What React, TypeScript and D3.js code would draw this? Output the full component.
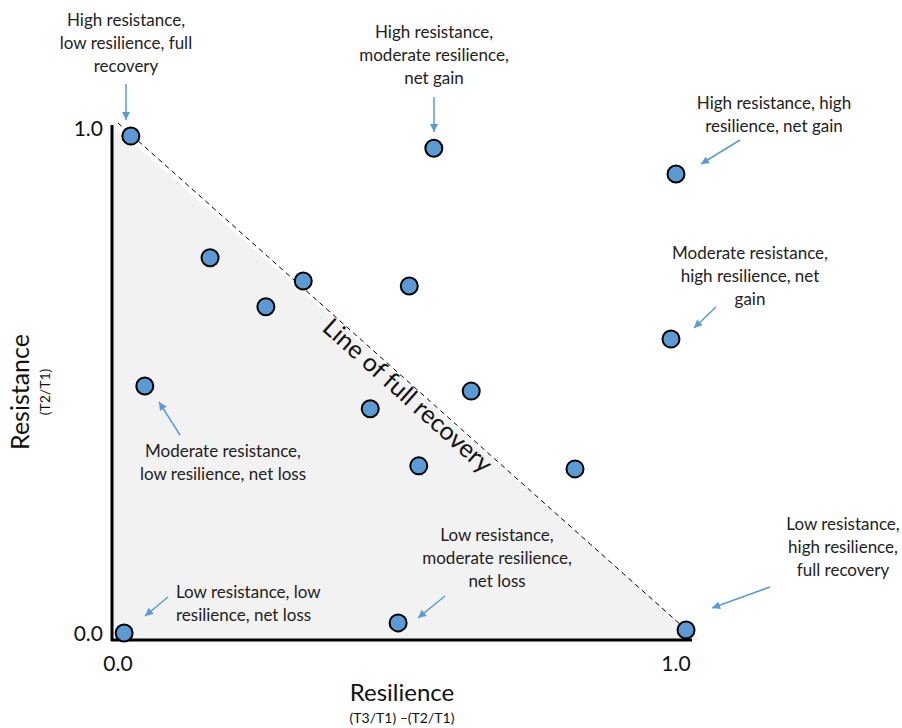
import React from 'react';
import * as d3 from 'd3';

// resilience (x) and resistance (y) of each site
const resilience = [0.023, 0.566, 1.0, 0.165, 0.332, 0.265, 0.522, 0.991, 0.048, 0.633, 0.452, 0.539, 0.819, 0.502, 0.011, 1.018];
const resistance = [0.984, 0.96, 0.909, 0.743, 0.697, 0.646, 0.687, 0.582, 0.489, 0.479, 0.444, 0.331, 0.325, 0.02, 0.0, 0.006];

const xTicks = [0, 1];
const yTicks = [0, 1];

const noteTexts = [
  ['High resistance,', 'low resilience, full', 'recovery'],
  ['High resistance,', 'moderate resilience,', 'net gain'],
  ['High resistance, high', 'resilience, net gain'],
  ['Moderate resistance,', 'high resilience, net', 'gain'],
  ['Moderate resistance,', 'low resilience, net loss'],
  ['Low resistance,', 'moderate resilience,', 'net loss'],
  ['Low resistance, low', 'resilience, net loss'],
  ['Low resistance,', 'high resilience,', 'full recovery'],
];

// layout of the notes: text anchor, first baseline, arrow from/to (pixels)
const noteLayout = [
  { x: 126, y: 26, anchor: 'middle', a: [126, 84, 126, 120] },
  { x: 434, y: 38, anchor: 'middle', a: [434, 97, 434, 132] },
  { x: 774, y: 109, anchor: 'middle', a: [740, 140, 701, 164] },
  { x: 750, y: 259, anchor: 'middle', a: [716, 307, 694, 328] },
  { x: 223, y: 457, anchor: 'middle', a: [180, 435, 159, 402] },
  { x: 497, y: 541, anchor: 'middle', a: [445, 596, 418, 618] },
  { x: 176, y: 598, anchor: 'start', a: [168, 597, 145, 616] },
  { x: 843, y: 530, anchor: 'middle', a: [770, 587, 712, 608] },
];

const W = 902;
const H = 728;
const FONT = 'Lato, "Open Sans", sans-serif';
const BLUE = '#5b9bd5';

const App = () => {
  const x = d3.scaleLinear().domain([0, 1]).range([118, 676]);
  const y = d3.scaleLinear().domain([0, 1]).range([633, 128]);

  const axisLeft = 112;
  const axisBottom = 640;

  const tri = d3.line()([
    [axisLeft, 125],
    [axisLeft, axisBottom],
    [700, axisBottom],
  ]) + 'Z';

  const lineStart = [x(0), y(1.01)];
  const lineEnd = [x(1.03), y(-0.005)];
  const angle = (Math.atan2(lineEnd[1] - lineStart[1], lineEnd[0] - lineStart[0]) * 180) / Math.PI;

  return (
    <svg width={W} height={H} style={{ position: 'absolute', left: 0, top: 0 }} fontFamily={FONT}>
      <defs>
        <marker id="ah" viewBox="0 0 10 10" refX="10" refY="5" markerWidth="10" markerHeight="8" markerUnits="userSpaceOnUse" orient="auto">
          <path d="M0,0 L10,5 L0,10 Z" fill={BLUE} />
        </marker>
      </defs>
      <rect width={W} height={H} fill="white" />
      <path d={tri} fill="#f2f2f2" />
      <line x1={lineStart[0]} y1={lineStart[1]} x2={lineEnd[0]} y2={lineEnd[1]} stroke="#000" strokeWidth={1} strokeDasharray="5,4" />
      <text
        transform={`translate(402,402) rotate(${angle})`}
        textAnchor="middle"
        fontSize={25}
        fill="#111"
      >
        Line of full recovery
      </text>

      <line x1={axisLeft} y1={125} x2={axisLeft} y2={axisBottom + 1} stroke="#000" strokeWidth={3} />
      <line x1={axisLeft - 1} y1={axisBottom} x2={692} y2={axisBottom} stroke="#000" strokeWidth={3} />

      {xTicks.map(t => (
        <text key={'x' + t} x={x(t)} y={671} textAnchor="middle" fontSize={21} fill="#111">
          {d3.format('.1f')(t)}
        </text>
      ))}
      {yTicks.map(t => (
        <text key={'y' + t} x={103} y={y(t) + 8} textAnchor="end" fontSize={21} fill="#111">
          {d3.format('.1f')(t)}
        </text>
      ))}

      <text x={402} y={701} textAnchor="middle" fontSize={24} fill="#111">Resilience</text>
      <text x={402} y={723} textAnchor="middle" fontSize={14} fill="#111">(T3/T1) –(T2/T1)</text>
      <text transform="translate(29,392) rotate(-90)" textAnchor="middle" fontSize={25} fill="#111">Resistance</text>
      <text transform="translate(50,392) rotate(-90)" textAnchor="middle" fontSize={14} fill="#111">(T2/T1)</text>

      {resilience.map((r, i) => (
        <circle key={i} cx={x(r)} cy={y(resistance[i])} r={8.5} fill={BLUE} stroke="#000" strokeWidth={2} />
      ))}

      {noteTexts.map((lines, i) => {
        const l = noteLayout[i];
        return (
          <g key={'n' + i}>
            <text x={l.x} y={l.y} textAnchor={l.anchor as any} fontSize={17} fill="#222">
              {lines.map((s, j) => (
                <tspan key={j} x={l.x} dy={j === 0 ? 0 : 23}>{s}</tspan>
              ))}
            </text>
            <line x1={l.a[0]} y1={l.a[1]} x2={l.a[2]} y2={l.a[3]} stroke={BLUE} strokeWidth={1.5} markerEnd="url(#ah)" />
          </g>
        );
      })}
    </svg>
  );
};

export default App;
